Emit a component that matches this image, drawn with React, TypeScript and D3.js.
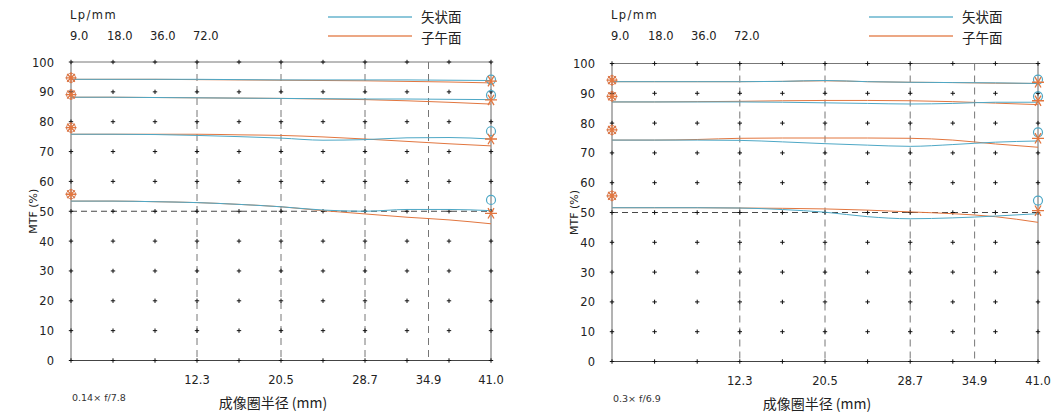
import { useRef, useEffect } from "react";
import * as d3 from "d3";

// image-circle radius sample points (mm)
const X_MM = [0, 4.1, 8.2, 12.3, 16.4, 20.5, 24.6, 28.7, 32.8, 36.9, 41.0];
const X_TICKS = [12.3, 20.5, 28.7, 34.9, 41.0];
const Y_TICKS = [0, 10, 20, 30, 40, 50, 60, 70, 80, 90, 100];
const FREQS = ["9.0", "18.0", "36.0", "72.0"];

// left panel: 0.14x f/7.8
const L_SAG = [
  [94.2, 94.2, 94.2, 94.2, 94.1, 94.0, 94.0, 94.0, 94.0, 93.9, 93.8],
  [88.2, 88.2, 88.1, 88.0, 87.9, 87.8, 87.7, 87.6, 87.6, 87.5, 87.4],
  [75.8, 75.8, 75.7, 75.4, 75.0, 74.5, 73.8, 74.0, 74.6, 74.7, 74.2],
  [53.4, 53.4, 53.2, 52.9, 52.3, 51.5, 50.4, 50.0, 50.6, 50.6, 50.2],
];
const L_MER = [
  [94.2, 94.2, 94.2, 94.1, 94.0, 93.9, 93.8, 93.7, 93.5, 93.3, 93.0],
  [88.2, 88.2, 88.1, 88.0, 87.9, 87.8, 87.6, 87.4, 87.0, 86.5, 85.9],
  [75.8, 75.8, 75.8, 75.8, 75.6, 75.4, 74.9, 74.2, 73.4, 72.6, 71.9],
  [53.4, 53.4, 53.2, 52.9, 52.3, 51.5, 50.2, 49.1, 48.0, 47.1, 45.8],
];
const L_START = [94.7, 89.1, 78.0, 55.7];
const L_END_SAG = [94.1, 88.9, 76.8, 53.8];
const L_END_MER = [93.6, 87.3, 74.2, 49.3];

// right panel: 0.3x f/6.9
const R_SAG = [
  [93.9, 93.9, 93.9, 93.9, 94.0, 94.3, 93.9, 93.7, 93.6, 93.5, 93.3],
  [87.1, 87.1, 87.1, 87.1, 87.0, 86.8, 86.6, 86.4, 86.6, 87.0, 87.0],
  [74.3, 74.3, 74.3, 74.2, 73.7, 73.1, 72.6, 72.2, 72.8, 73.6, 74.0],
  [51.6, 51.6, 51.6, 51.5, 51.0, 50.1, 48.6, 47.9, 48.2, 48.8, 49.6],
];
const R_MER = [
  [93.9, 93.9, 93.9, 93.9, 94.0, 94.2, 93.9, 93.7, 93.6, 93.4, 93.3],
  [87.1, 87.1, 87.2, 87.3, 87.5, 87.6, 87.6, 87.5, 87.2, 86.7, 86.2],
  [74.3, 74.3, 74.5, 74.9, 75.0, 75.0, 75.0, 74.9, 74.3, 73.0, 71.9],
  [51.6, 51.6, 51.6, 51.5, 51.4, 51.2, 50.8, 50.2, 49.6, 48.6, 46.7],
];
const R_START = [94.4, 89.0, 77.7, 55.6];
const R_END_SAG = [94.6, 89.0, 76.9, 54.0];
const R_END_MER = [93.7, 87.5, 74.9, 50.6];

const LEGEND = ["矢状面", "子午面"];

const BLUE = "#4ea8c6";
const ORANGE = "#e2763f";
const NUM_FONT = "'DejaVu Sans', Verdana, sans-serif";
const CJK_FONT = "'Noto Sans CJK SC', 'Noto Sans', sans-serif";

interface PanelProps {
  x0: number; x1: number; yTop: number; yBot: number;
  sag: number[][]; mer: number[][];
  start: number[]; endSag: number[]; endMer: number[];
  note: string;
}

function Panel({ x0, x1, yTop, yBot, sag, mer, start, endSag, endMer, note }: PanelProps) {
  const ref = useRef<SVGGElement>(null);

  useEffect(() => {
    if (!ref.current) return;
    const g = d3.select(ref.current);
    g.selectAll("*").remove();

    const x = d3.scaleLinear().domain([0, 41]).range([x0, x1]);
    const y = d3.scaleLinear().domain([0, 100]).range([yBot, yTop]);

    // header: frequencies + legend
    g.append("text").attr("x", x0 - 1).attr("y", 19).attr("font-family", NUM_FONT).attr("font-size", 11.5)
      .attr("letter-spacing", 1.4).attr("fill", "#222").text("Lp/mm");
    const freqX = [0, 37, 80, 123];
    FREQS.forEach((f, i) => {
      g.append("text").attr("x", x0 - 1 + freqX[i]).attr("y", 40).attr("font-family", NUM_FONT)
        .attr("font-size", 11.5).attr("fill", "#222").text(f);
    });
    const legX = x0 + 257;
    const legColors = [BLUE, ORANGE];
    LEGEND.forEach((lbl, i) => {
      const ly = 17 + i * 19;
      g.append("line").attr("x1", legX).attr("x2", legX + 84).attr("y1", ly).attr("y2", ly)
        .attr("stroke", legColors[i]).attr("stroke-width", 1.3).attr("opacity", 0.85);
      g.append("text").attr("x", legX + 93).attr("y", ly + 5 + i * 1.5).attr("font-family", CJK_FONT)
        .attr("font-size", 13.5).attr("fill", "#222").text(lbl);
    });

    // dashed verticals
    X_TICKS.slice(0, 4).forEach((t) => {
      g.append("line").attr("x1", x(t)).attr("x2", x(t)).attr("y1", yTop).attr("y2", yBot)
        .attr("stroke", "#666").attr("stroke-width", 0.9).attr("stroke-dasharray", "7,5");
    });
    // dashed 50 line
    g.append("line").attr("x1", x(0)).attr("x2", x(41)).attr("y1", y(50)).attr("y2", y(50))
      .attr("stroke", "#333").attr("stroke-width", 0.9).attr("stroke-dasharray", "6,4");

    // frame
    g.append("line").attr("x1", x(0)).attr("x2", x(41)).attr("y1", y(100)).attr("y2", y(100)).attr("stroke", "#777");
    g.append("line").attr("x1", x(0)).attr("x2", x(41)).attr("y1", y(0)).attr("y2", y(0)).attr("stroke", "#444").attr("stroke-width", 1.2);
    g.append("line").attr("x1", x(0)).attr("x2", x(0)).attr("y1", y(0)).attr("y2", y(100)).attr("stroke", "#666");
    g.append("line").attr("x1", x(41)).attr("x2", x(41)).attr("y1", y(0)).attr("y2", y(100)).attr("stroke", "#666");

    // plus-dot grid
    X_MM.forEach((xm) => {
      Y_TICKS.forEach((yv) => {
        const px = x(xm), py = y(yv);
        g.append("path").attr("d", `M${px - 2.2},${py}H${px + 2.2}M${px},${py - 2.2}V${py + 2.2}`)
          .attr("stroke", "#111").attr("stroke-width", 1);
      });
    });

    // curves
    const line = d3.line<number>().x((_, i) => x(X_MM[i])).y((d) => y(d)).curve(d3.curveMonotoneX);
    const drawSet = (rows: number[][], c: string) => rows.forEach((r) => {
      g.append("path").attr("d", line(r)).attr("fill", "none").attr("stroke", c).attr("stroke-width", 1);
    });
    drawSet(mer, ORANGE);
    drawSet(sag, BLUE);

    const star = (px: number, py: number, r: number, arms: number[]) => {
      const d = arms.map((a) => {
        const dx = Math.cos(a) * r, dy = Math.sin(a) * r;
        return `M${px - dx},${py - dy}L${px + dx},${py + dy}`;
      }).join("");
      g.append("path").attr("d", d).attr("stroke", ORANGE).attr("stroke-width", 1.3).attr("fill", "none");
    };

    // start markers (circle + asterisk)
    start.forEach((v) => {
      g.append("circle").attr("cx", x(0)).attr("cy", y(v)).attr("r", 4.5).attr("fill", "none")
        .attr("stroke", "#c8785a").attr("stroke-width", 1);
      star(x(0), y(v), 5.5, [0, Math.PI / 4, Math.PI / 2, (3 * Math.PI) / 4]);
    });
    // end markers
    endSag.forEach((v) => {
      g.append("circle").attr("cx", x(41)).attr("cy", y(v)).attr("r", 4.5).attr("fill", "none")
        .attr("stroke", BLUE).attr("stroke-width", 1.2);
    });
    endMer.forEach((v) => {
      star(x(41), y(v), 6, [0, Math.PI / 3, (2 * Math.PI) / 3]);
    });

    // y tick labels
    Y_TICKS.forEach((t) => {
      g.append("text").attr("x", x0 - 17).attr("y", y(t) + 4.5).attr("text-anchor", "end")
        .attr("font-family", NUM_FONT).attr("font-size", 11.5).attr("fill", "#222").text(t);
    });
    // x tick labels
    X_TICKS.forEach((t) => {
      g.append("text").attr("x", x(t)).attr("y", yBot + 23).attr("text-anchor", "middle")
        .attr("font-family", NUM_FONT).attr("font-size", 11.5).attr("fill", "#222").text(t.toFixed(1));
    });

    // axis titles
    g.append("text").attr("transform", `translate(${x0 - 34},${(yTop + yBot) / 2}) rotate(-90)`)
      .attr("text-anchor", "middle").attr("font-family", NUM_FONT).attr("font-size", 11)
      .attr("fill", "#222").text("MTF (%)");
    g.append("text").attr("x", (x0 + x1) / 2 - 8).attr("y", yBot + 47).attr("text-anchor", "middle")
      .attr("font-family", CJK_FONT).attr("font-size", 14).attr("fill", "#222").text("成像圈半径 (mm)");
    g.append("text").attr("x", x0 + 1).attr("y", yBot + 40).attr("font-family", NUM_FONT)
      .attr("font-size", 9.5).attr("fill", "#333").text(note);
  }, [x0, x1, yTop, yBot, sag, mer, start, endSag, endMer, note]);

  return <g ref={ref} />;
}

export default function App() {
  return (
    <svg width={1060} height={416} style={{ position: "absolute", left: 0, top: 0, background: "#fff" }}>
      <rect width={1060} height={416} fill="#fff" />
      <Panel x0={71} x1={491} yTop={62} yBot={360.5} sag={L_SAG} mer={L_MER}
        start={L_START} endSag={L_END_SAG} endMer={L_END_MER} note="0.14× f/7.8" />
      <Panel x0={612} x1={1038} yTop={63.5} yBot={361.5} sag={R_SAG} mer={R_MER}
        start={R_START} endSag={R_END_SAG} endMer={R_END_MER} note="0.3× f/6.9" />
    </svg>
  );
}
